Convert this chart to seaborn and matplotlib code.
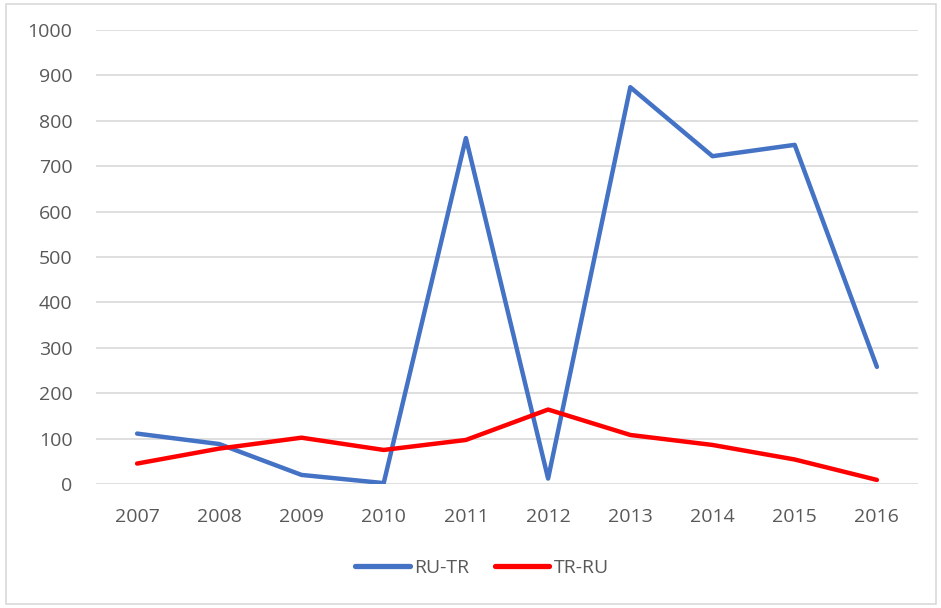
import pandas as pd
import matplotlib.pyplot as plt
import seaborn as sns
from matplotlib.patches import Rectangle

# values
years = ['2007', '2008', '2009', '2010', '2011', '2012', '2013', '2014', '2015', '2016']
ru_tr = [111, 88, 20, 2, 762, 12, 874, 722, 747, 258]
tr_ru = [45, 78, 102, 75, 97, 164, 108, 86, 54, 9]
series_names = ['RU-TR', 'TR-RU']
series_colors = ['#4472C4', '#FF0000']

df = pd.DataFrame({'Year': years * 2,
                   'Value': ru_tr + tr_ru,
                   'Series': [series_names[0]] * len(years) + [series_names[1]] * len(years)})
df['Pos'] = df['Year'].map({y: i for i, y in enumerate(years)})

sns.set_style('white')
plt.rcParams['font.family'] = ['Open Sans', 'DejaVu Sans']

fig = plt.figure(figsize=(9.41, 6.08), dpi=100)
ax = fig.add_axes([96 / 941, 1 - 484 / 608, (918 - 96) / 941, (484 - 30) / 608])

sns.lineplot(data=df, x='Pos', y='Value', hue='Series', hue_order=series_names,
             palette=series_colors, linewidth=3.2, ax=ax, sort=False)

ax.set_xlim(-0.5, len(years) - 0.5)
ax.set_ylim(0, 1000)
ax.set_xticks(range(len(years)))
ax.set_xticklabels(years)
ax.set_yticks(range(0, 1001, 100))
ax.yaxis.grid(True, color='#d9d9d9', linewidth=1.2)
ax.set_axisbelow(True)
for s in ax.spines.values():
    s.set_visible(False)
ax.tick_params(axis='both', length=0, labelsize=14, colors='#595959')
ax.tick_params(axis='x', pad=17)
ax.tick_params(axis='y', pad=17)
ax.set_xlabel('')
ax.set_ylabel('')

leg = ax.legend(loc='center', bbox_to_anchor=(0.47, -0.185), ncol=2, frameon=False,
                fontsize=14, handlelength=2.8, columnspacing=1.3, handletextpad=0.25)
for t in leg.get_texts():
    t.set_color('#595959')
for line in leg.get_lines():
    line.set_linewidth(3.8)
    line.set_solid_capstyle('round')

fig.patches.append(Rectangle((6 / 941, 4 / 608), 930 / 941, 600 / 608, transform=fig.transFigure,
                             fill=False, edgecolor='#d9d9d9', linewidth=1.2))

plt.savefig('out.png', dpi=100)
plt.close()
